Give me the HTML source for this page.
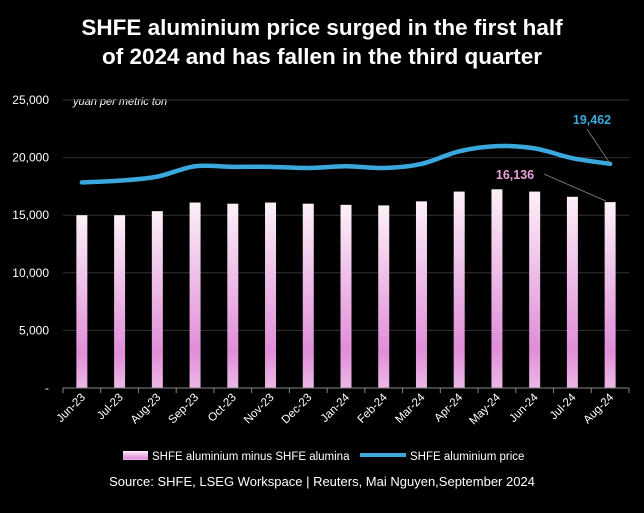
<!DOCTYPE html>
<html><head><meta charset="utf-8"><style>
body{margin:0;background:#000;width:644px;height:508px;overflow:hidden;font-family:"Liberation Sans",sans-serif}
</style></head><body>
<svg width="644" height="508" xmlns="http://www.w3.org/2000/svg">
<defs><linearGradient id="bg" x1="0" y1="0" x2="0" y2="1">
<stop offset="0" stop-color="#fcf0f8"/><stop offset="0.8" stop-color="#e08ed8"/><stop offset="1" stop-color="#ecb8e6"/></linearGradient></defs>
<text x="322" y="35" fill="#fff" font-size="22.5" font-weight="bold" text-anchor="middle">SHFE aluminium price surged in the first half</text>
<text x="322" y="64" fill="#fff" font-size="22.5" font-weight="bold" text-anchor="middle">of 2024 and has fallen in the third quarter</text>
<text x="73" y="105" fill="#fff" font-size="11" font-style="italic">yuan per metric ton</text>
<g id="grid"></g><g id="bars"></g><g id="line"></g><g id="xax"></g>
<g>
<rect x="123" y="451" width="25" height="9" fill="url(#bg)"/>
<text x="152" y="460" fill="#fff" font-size="11.5">SHFE aluminium minus SHFE alumina</text>
<line x1="360" y1="455" x2="406" y2="455" stroke="#3aa8dc" stroke-width="4"/>
<text x="410" y="460" fill="#fff" font-size="11.5">SHFE aluminium price</text>
</g>
<text x="322" y="486" fill="#fff" font-size="13" text-anchor="middle">Source: SHFE, LSEG Workspace | Reuters, Mai Nguyen,September 2024</text>
</svg>
<script>
const categories=["Jun-23","Jul-23","Aug-23","Sep-23","Oct-23","Nov-23","Dec-23","Jan-24","Feb-24","Mar-24","Apr-24","May-24","Jun-24","Jul-24","Aug-24"];
const spreadValues=[15000,15000,15350,16100,16000,16100,16000,15900,15850,16200,17050,17250,17050,16600,16136];
const priceValues=[17850,18000,18350,19250,19200,19200,19100,19250,19100,19450,20550,21000,20800,19950,19462];
const yTicks=[0,5000,10000,15000,20000,25000];
const yTickLabels=["-","5,000","10,000","15,000","20,000","25,000"];
const NS="http://www.w3.org/2000/svg";
const x0=63,x1=629,yb=388,yt=100,ymax=25000;
const bw=(x1-x0)/categories.length;
const X=i=>x0+bw*(i+0.5);
const Y=v=>yb-(v/ymax)*(yb-yt);
function mk(t,a,p){const e=document.createElementNS(NS,t);for(const k in a)e.setAttribute(k,a[k]);p.appendChild(e);return e;}
const grid=document.getElementById('grid');
yTicks.forEach((v,i)=>{
 if(v>0){const l=mk('line',{x1:x0,x2:x1,y1:Y(v),y2:Y(v),stroke:'#333','stroke-width':1},grid);
 
 }
 const t=mk('text',{x:49,y:Y(v)+4,fill:'#fff','font-size':12,'text-anchor':'end'},grid);
 t.textContent=yTickLabels[i];
 
 
});
const bars=document.getElementById('bars');
spreadValues.forEach((v,i)=>{
 const r=mk('rect',{x:X(i)-5.5,y:Y(v),width:11,height:yb-Y(v),fill:'url(#bg)'},bars);
 
 
});
const lg=document.getElementById('line');
const pts=priceValues.map((v,i)=>[X(i),Y(v)]);
let d='M'+pts[0];
for(let i=1;i<pts.length;i++){
 const pm=pts[Math.max(i-2,0)],p0=pts[i-1],p1=pts[i],pn=pts[Math.min(i+1,pts.length-1)];
 const t=6;
 const c1=[p0[0]+(p1[0]-pm[0])/t,p0[1]+(p1[1]-pm[1])/t];
 const c2=[p1[0]-(pn[0]-p0[0])/t,p1[1]-(pn[1]-p0[1])/t];
 d+=` C${c1} ${c2} ${p1}`;
}
const pl=mk('path',{d:d,fill:'none',stroke:'#3aa8dc','stroke-width':4.5,'stroke-linecap':'round'},lg);


const n=categories.length-1;
const lp=pts[n];
const cl1=mk('line',{x1:lp[0],y1:lp[1],x2:587,y2:129,stroke:'#888','stroke-width':0.8},lg);


const t1=mk('text',{x:592,y:124,fill:'#3aa8dc','font-size':12.5,'font-weight':'bold','text-anchor':'middle'},lg);
t1.textContent=priceValues[n].toLocaleString('en-US');


const cl2=mk('line',{x1:X(n)-4,y1:Y(spreadValues[n])-1,x2:544,y2:174,stroke:'#888','stroke-width':0.8},lg);


const t2=mk('text',{x:515,y:179,fill:'#e8a0dc','font-size':12.5,'font-weight':'bold','text-anchor':'middle'},lg);
t2.textContent=spreadValues[n].toLocaleString('en-US');


const xa=document.getElementById('xax');
const ax=mk('line',{x1:x0,x2:x1,y1:yb,y2:yb,stroke:'#888','stroke-width':1},xa);


for(let i=0;i<=categories.length;i++){
 const tk=mk('line',{x1:x0+bw*i,x2:x0+bw*i,y1:yb,y2:yb+5,stroke:'#888'},xa);
 
 
}
categories.forEach((c,i)=>{
 const t=mk('text',{x:X(i)+4,y:yb+10,fill:'#fff','font-size':11.5,'text-anchor':'end',transform:`rotate(-45 ${X(i)+4} ${yb+10})`},xa);
 t.textContent=c;
 
 
});
</script>
</body></html>
